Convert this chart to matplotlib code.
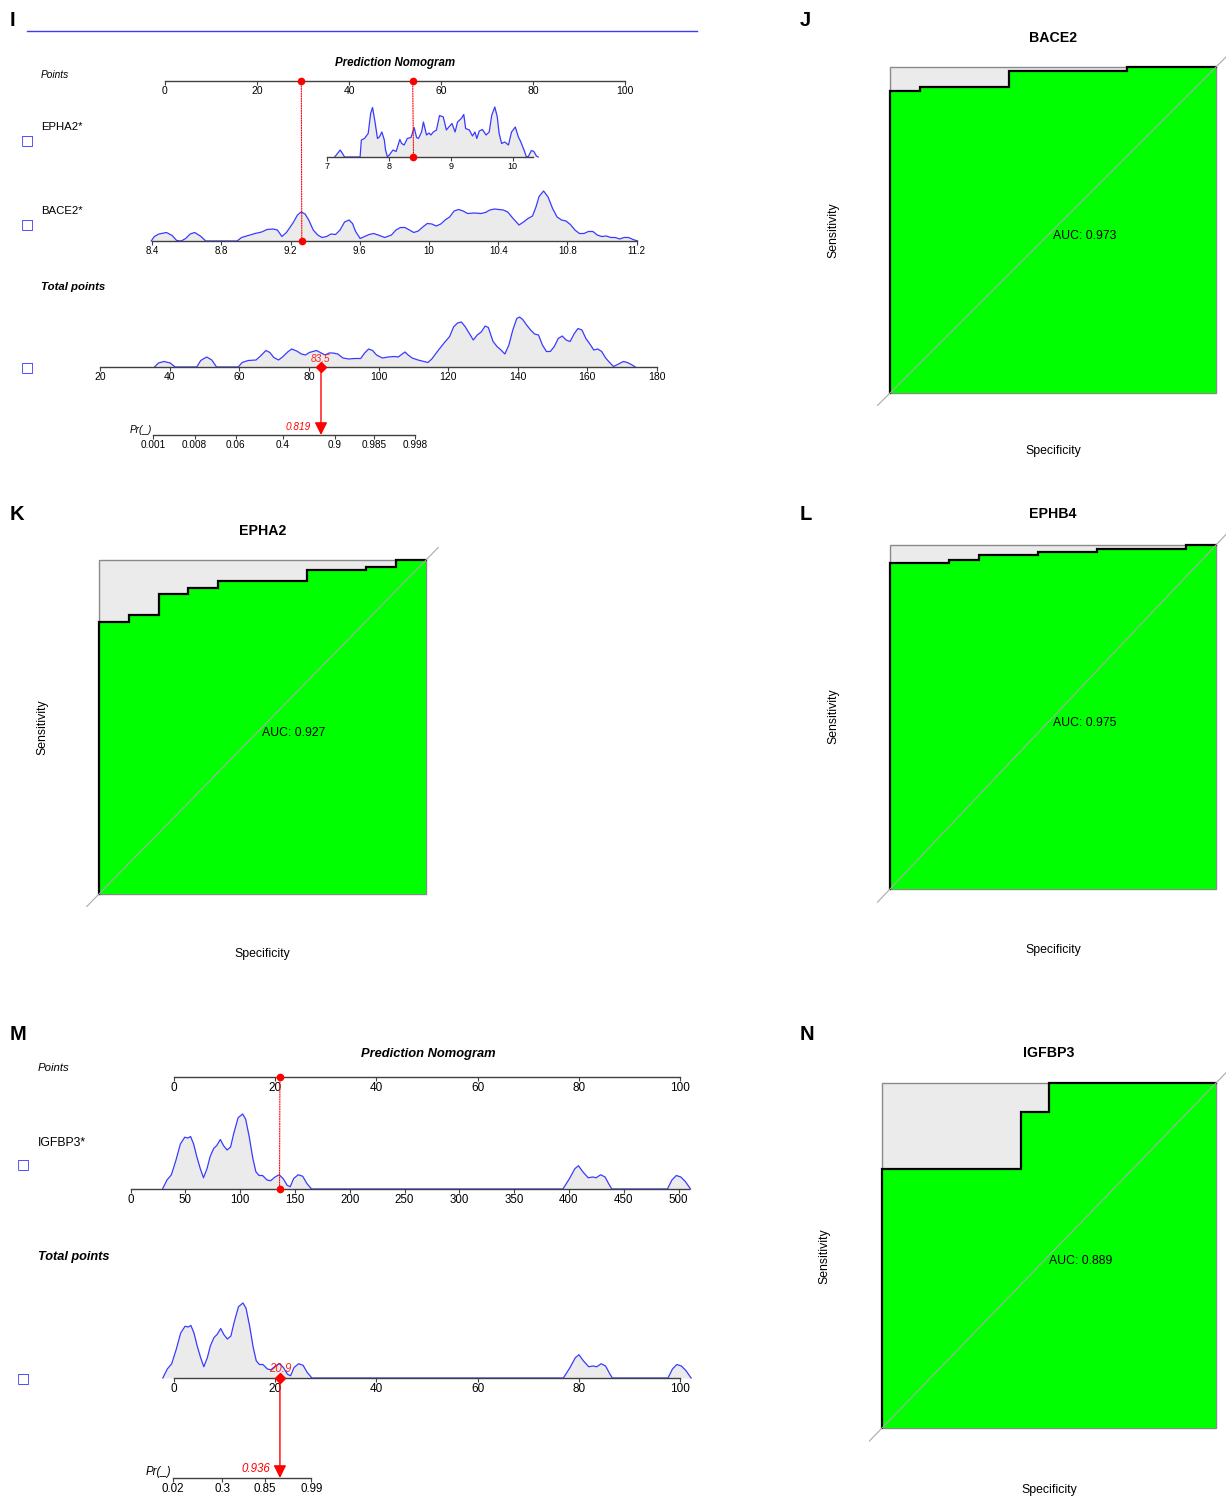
import numpy as np
import matplotlib.pyplot as plt
from matplotlib.patches import ConnectionPatch, Rectangle
from matplotlib.lines import Line2D

plt.rcParams['font.family'] = ['Liberation Sans', 'DejaVu Sans']

# ---------------- data ----------------
# panel I: density traces (value, relative height)
epha2_x = [7.13, 7.22, 7.29, 7.54, 7.56, 7.61, 7.67, 7.71, 7.74, 7.78, 7.82, 7.85, 7.89, 7.93, 7.95,
           7.98, 8.01, 8.07, 8.12, 8.18, 8.21, 8.25, 8.30, 8.36, 8.41, 8.45, 8.48, 8.53, 8.56, 8.61,
           8.65, 8.68, 8.72, 8.77, 8.82, 8.88, 8.93, 8.97, 9.02, 9.07, 9.11, 9.17, 9.21, 9.24, 9.30,
           9.35, 9.39, 9.42, 9.46, 9.51, 9.57, 9.62, 9.66, 9.71, 9.75, 9.78, 9.82, 9.87, 9.93, 9.98,
           10.04, 10.09, 10.13, 10.18, 10.22, 10.25, 10.30, 10.34, 10.38, 10.41]
epha2_d = [0, 0.14, 0, 0, 0.34, 0.37, 0.47, 0.87, 0.99, 0.70, 0.37, 0.40, 0.50, 0.34, 0.14,
           0, 0.04, 0.14, 0.11, 0.35, 0.27, 0.24, 0.37, 0.39, 0.59, 0.39, 0.37, 0.50, 0.70, 0.44,
           0.48, 0.44, 0.50, 0.54, 0.83, 0.80, 0.54, 0.60, 0.67, 0.50, 0.70, 0.77, 0.85, 0.57, 0.54,
           0.42, 0.50, 0.37, 0.52, 0.55, 0.44, 0.50, 0.83, 1.00, 0.80, 0.47, 0.27, 0.30, 0.24, 0.50,
           0.60, 0.40, 0.30, 0.14, 0, 0.01, 0.13, 0.11, 0.02, 0]

bace2_x = [8.395, 8.413, 8.439, 8.483, 8.516, 8.542, 8.568, 8.594, 8.620, 8.646, 8.679,
           8.710, 8.891, 8.917, 8.956, 8.995, 9.033, 9.064, 9.098, 9.124, 9.150,
           9.176, 9.214, 9.240, 9.261, 9.284, 9.305, 9.331, 9.357, 9.382, 9.408,
           9.434, 9.460, 9.486, 9.512, 9.538, 9.558, 9.576, 9.602, 9.628, 9.654,
           9.680, 9.706, 9.744, 9.783, 9.809, 9.835, 9.861, 9.887, 9.912, 9.938,
           9.964, 9.990, 10.016, 10.042, 10.068, 10.093, 10.119, 10.145, 10.171, 10.197,
           10.223, 10.261, 10.300, 10.326, 10.352, 10.378, 10.404, 10.429, 10.455, 10.481,
           10.520, 10.546, 10.572, 10.598, 10.618, 10.636, 10.662, 10.688, 10.714, 10.740,
           10.766, 10.791, 10.817, 10.843, 10.869, 10.895, 10.921, 10.947, 10.972, 10.998,
           11.024, 11.050, 11.076, 11.102, 11.127, 11.153, 11.179, 11.205]
bace2_d = [0, 0.09, 0.14, 0.17, 0.11, 0.01, 0, 0.05, 0.14, 0.17, 0.10,
           0, 0, 0.07, 0.11, 0.15, 0.18, 0.23, 0.24, 0.22, 0.09,
           0.17, 0.36, 0.52, 0.58, 0.54, 0.42, 0.22, 0.12, 0.07, 0.09,
           0.14, 0.13, 0.22, 0.38, 0.42, 0.35, 0.19, 0.05, 0.09, 0.13,
           0.15, 0.12, 0.07, 0.12, 0.22, 0.27, 0.27, 0.22, 0.17, 0.20,
           0.28, 0.35, 0.34, 0.30, 0.34, 0.42, 0.48, 0.60, 0.63, 0.60,
           0.55, 0.56, 0.55, 0.57, 0.62, 0.64, 0.63, 0.62, 0.58, 0.47,
           0.32, 0.38, 0.45, 0.50, 0.68, 0.89, 1.00, 0.88, 0.65, 0.48,
           0.42, 0.40, 0.33, 0.22, 0.15, 0.15, 0.19, 0.19, 0.12, 0.09,
           0.10, 0.07, 0.07, 0.04, 0.07, 0.07, 0.03, 0]

total_x = [35.66, 36.79, 38.38, 40.20, 41.56, 47.80, 48.94, 50.64, 52.11, 53.48,
           59.72, 60.85, 62.55, 64.82, 65.96, 67.66, 68.79, 69.93, 71.29, 72.43,
           73.90, 75.04, 76.51, 77.87, 79.01, 80.14, 82.18, 83.55, 84.68, 85.82,
           86.95, 88.31, 89.79, 91.49, 93.19, 94.89, 96.03, 97.16, 98.30, 99.43,
           101.13, 102.84, 104.54, 105.67, 106.81, 107.60, 108.51, 109.65, 111.35, 113.05,
           114.18, 115.32, 117.02, 118.72, 120.43, 121.56, 122.70, 123.83, 124.96, 126.10,
           127.23, 128.37, 129.50, 130.64, 131.55, 132.91, 134.04, 135.18, 136.31, 137.45,
           138.58, 139.72, 140.51, 141.42, 142.55, 143.69, 144.82, 145.96, 147.09, 148.23,
           149.36, 150.50, 151.63, 152.77, 153.90, 155.04, 156.17, 157.30, 158.44, 159.57,
           160.71, 161.84, 162.98, 164.11, 165.25, 166.38, 167.52, 168.65, 170.35, 171.48,
           172.62, 173.76]
total_d = [0, 0.08, 0.11, 0.08, 0, 0, 0.13, 0.20, 0.14, 0,
           0, 0.09, 0.13, 0.14, 0.21, 0.33, 0.29, 0.19, 0.14, 0.20,
           0.30, 0.36, 0.32, 0.26, 0.24, 0.29, 0.33, 0.28, 0.24, 0.28,
           0.28, 0.26, 0.18, 0.16, 0.17, 0.17, 0.28, 0.36, 0.33, 0.24,
           0.18, 0.20, 0.21, 0.20, 0.26, 0.30, 0.24, 0.18, 0.14, 0.11,
           0.09, 0.16, 0.32, 0.47, 0.61, 0.80, 0.88, 0.90, 0.80, 0.67,
           0.54, 0.64, 0.70, 0.82, 0.79, 0.51, 0.41, 0.34, 0.26, 0.44,
           0.74, 0.97, 1.00, 0.95, 0.84, 0.74, 0.66, 0.64, 0.44, 0.31,
           0.31, 0.41, 0.57, 0.62, 0.54, 0.51, 0.66, 0.77, 0.74, 0.57,
           0.46, 0.34, 0.36, 0.31, 0.18, 0.09, 0.01, 0.05, 0.11, 0.09,
           0.05, 0]

# panel I model: points = a + b * (value - ref)
epha2_pts = (35.02, 13.45, 7.0)
bace2_pts = (-2.92, 37.63, 8.4)
epha2_sel, bace2_sel = 8.40, 9.265
lp_I = (74.82, 0.1744)          # lp = b * (total - t0)
pr_ticks_I = [0.001, 0.008, 0.06, 0.4, 0.9, 0.985, 0.998]

# panel M
igfbp3_x = [29.2, 33.3, 37.3, 41.4, 45.5, 49.5, 52.4, 54.8, 57.6, 60.5,
            63.7, 66.6, 69.8, 72.6, 75.9, 78.7, 82.0, 84.8, 88.1, 91.3,
            94.2, 98.2, 102.3, 105.1, 108.4, 111.6, 114.4, 117.3, 120.5, 124.6,
            127.8, 131.9, 135.6, 139.2, 142.9, 145.7, 148.9, 153.0, 157.1, 161.1,
            165.2, 394.5, 400.6, 405.4, 408.7, 412.7, 417.6, 421.7, 424.9, 429.0,
            433.0, 436.3, 439.1, 489.9, 494.0, 498.0, 502.1, 506.2, 511.0]
igfbp3_d = [0, 0.12, 0.19, 0.38, 0.60, 0.69, 0.68, 0.70, 0.60, 0.43,
            0.27, 0.15, 0.27, 0.43, 0.54, 0.58, 0.66, 0.58, 0.52, 0.56,
            0.74, 0.95, 1.00, 0.93, 0.69, 0.41, 0.23, 0.18, 0.18, 0.12,
            0.11, 0.16, 0.19, 0.14, 0.05, 0.03, 0.14, 0.19, 0.17, 0.07,
            0, 0, 0.14, 0.27, 0.31, 0.23, 0.15, 0.16, 0.15, 0.19,
            0.16, 0.07, 0, 0, 0.12, 0.18, 0.16, 0.10, 0]
igfbp3_pts = (0.0, 0.2167, 39.4)
igfbp3_sel = 136.0
lp_M = (-3.81, 0.31)            # lp = a + b * total
pr_ticks_M = [0.02, 0.3, 0.85, 0.99]

# ROC curves (specificity, sensitivity)
roc_bace2_spec = [1, 1, .909, .909, .636, .636, .273, .273, 0]
roc_bace2_sens = [0, .927, .927, .939, .939, .989, .989, 1, 1]
roc_epha2_spec = [1, 1, .909, .909, .818, .818, .727, .727, .636, .636, .364, .364, .182, .182, .091, .091, 0]
roc_epha2_sens = [0, .815, .815, .835, .835, .897, .897, .917, .917, .937, .937, .969, .969, .979, .979, 1, 1]
roc_ephb4_spec = [1, 1, .818, .818, .727, .727, .545, .545, .364, .364, .091, .091, 0]
roc_ephb4_sens = [0, .947, .947, .957, .957, .970, .970, .979, .979, .989, .989, 1, 1]
roc_igfbp3_spec = [1, 1, .583, .583, .5, .5, 0]
roc_igfbp3_sens = [0, .751, .751, .917, .917, 1, 1]
auc_values = {'BACE2': 0.973, 'EPHA2': 0.927, 'EPHB4': 0.975, 'IGFBP3': 0.889}

# ---------------- drawing ----------------
W, H = 1226, 1497
fig = plt.figure(figsize=(W / 100, H / 100), dpi=100)

BLUE = '#3a3aff'
FILL = '#ebebeb'
AXC = '#404040'
GREEN = '#00ff00'


def px_axes(x0, y0, x1, y1):
    return fig.add_axes([x0 / W, 1 - y1 / H, (x1 - x0) / W, (y1 - y0) / H])


def ftext(x, y, s, **kw):
    return fig.text(x / W, 1 - y / H, s, **kw)


def scale_row(v1, p1, v2, p2, base, height, ticks, labels, bounds, fs):
    left, right = 0, 720
    ax = px_axes(left, base - height, right, base)
    k = (p2 - p1) / (v2 - v1)
    ax.set_xlim(v1 - (p1 - left) / k, v1 + (right - p1) / k)
    ax.set_ylim(0, 1)
    ax.patch.set_visible(False)
    for s in ('top', 'right', 'left'):
        ax.spines[s].set_visible(False)
    ax.spines['bottom'].set_bounds(*bounds)
    ax.spines['bottom'].set_color(AXC)
    ax.spines['bottom'].set_linewidth(1)
    ax.set_yticks([])
    ax.set_xticks(ticks)
    ax.set_xticklabels(labels)
    ax.tick_params(axis='x', length=3, width=0.8, color=AXC, pad=0.5, labelsize=fs)
    return ax


def density(ax, x, d):
    ax.fill_between(x, d, color=FILL, lw=0, clip_on=False)
    ax.plot(x, d, color=BLUE, lw=0.9, clip_on=False)


def to_pts(model, v):
    a, b, ref = model
    return a + b * (np.asarray(v) - ref)


def red_link(ax_a, xa, ax_b, xb):
    con = ConnectionPatch(xyA=(xa, 0), coordsA=ax_a.transData, xyB=(xb, 0), coordsB=ax_b.transData,
                          color='red', lw=0.8, linestyle=(0, (1, 1.2)))
    fig.add_artist(con)
    ax_a.plot(xa, 0, 'o', color='red', ms=4.5, clip_on=False, zorder=5)
    ax_b.plot(xb, 0, 'o', color='red', ms=4.5, clip_on=False, zorder=5)


def fmt(v):
    return ('%g' % v)


def total_to_pr(ax_t, ax_pr, tot, prob, fs):
    con = ConnectionPatch(xyA=(tot, 0), coordsA=ax_t.transData, xyB=(tot, 0), coordsB=ax_pr.transData,
                          color='red', lw=1, arrowstyle='-|>', mutation_scale=19, shrinkA=0, shrinkB=0)
    fig.add_artist(con)
    ax_t.plot(tot, 0, 'D', color='red', ms=5.5, clip_on=False, zorder=5)
    ax_t.annotate('%.1f' % tot, (tot, 0), xytext=(0, 2), textcoords='offset points', ha='center',
                  va='bottom', color='red', style='italic', fontsize=fs, alpha=0.85)
    ax_pr.annotate('%.3f' % prob, (tot, 0), xytext=(-7, 2), textcoords='offset points', ha='right',
                   va='bottom', color='red', style='italic', fontsize=fs)


def square(x, y):
    ftext(x, y, '\u25a1', color='#2a2aff', fontsize=10, ha='center', va='center', family='DejaVu Sans')


# panel letters
for lx, ly, lab in [(12, 20, 'I'), (805, 20, 'J'), (17, 515, 'K'), (806, 515, 'L'), (18, 1035, 'M'), (807, 1035, 'N')]:
    ftext(lx, ly, lab, fontsize=14.5, fontweight='bold', ha='center', va='center')

# ---- panel I nomogram ----
fig.add_artist(Line2D([27 / W, 697 / W], [1 - 31 / H] * 2, color=BLUE, lw=1))
ftext(395, 63, 'Prediction Nomogram', fontsize=8.3, fontweight='bold', style='italic', ha='center', va='center')
ftext(41, 75, 'Points', fontsize=7.3, style='italic', ha='left', va='center')
ftext(41, 127, 'EPHA2*', fontsize=8.2, ha='left', va='center')
ftext(41, 211, 'BACE2*', fontsize=8.2, ha='left', va='center')
ftext(41, 287, 'Total points', fontsize=8.2, fontweight='bold', style='italic', ha='left', va='center')
for yy in (140, 224, 367):
    square(27, yy)

pts_ticks = [0, 20, 40, 60, 80, 100]
ax_p = scale_row(0, 165, 100, 625, 81, 10, pts_ticks, [fmt(t) for t in pts_ticks], (0, 100), 7.5)

e_ticks = [7, 8, 9, 10]
ax_e = scale_row(7, 326.6, 10, 512.8, 157, 50, e_ticks, [fmt(t) for t in e_ticks], (7, 10.33), 6.5)
density(ax_e, epha2_x, epha2_d)

b_ticks = [8.4, 8.8, 9.2, 9.6, 10, 10.4, 10.8, 11.2]
ax_b = scale_row(8.4, 152.1, 11.2, 636.7, 241, 50, b_ticks, [fmt(t) for t in b_ticks], (8.4, 11.2), 7)
density(ax_b, bace2_x, bace2_d)

p_e = float(to_pts(epha2_pts, epha2_sel))
p_b = float(to_pts(bace2_pts, bace2_sel))
red_link(ax_p, p_e, ax_e, epha2_sel)
red_link(ax_p, p_b, ax_b, bace2_sel)

t_ticks = list(range(20, 181, 20))
ax_t = scale_row(20, 100, 180, 657, 367, 50, t_ticks, [fmt(t) for t in t_ticks], (20, 180), 7.5)
density(ax_t, total_x, total_d)

t0, slope = lp_I
pr_pos = [t0 + np.log(p / (1 - p)) / slope for p in pr_ticks_I]
ax_pr = scale_row(20, 100, 180, 657, 435, 10, pr_pos, [fmt(p) for p in pr_ticks_I],
                  (pr_pos[0], pr_pos[-1]), 7.2)
ax_pr.annotate('Pr(_)', (pr_pos[0], 0), xytext=(-1, 0), textcoords='offset points', ha='right',
               va='bottom', style='italic', fontsize=7.2)
tot_I = p_e + p_b
prob_I = 1 / (1 + np.exp(-slope * (tot_I - t0)))
total_to_pr(ax_t, ax_pr, tot_I, prob_I, 7.2)

# ---- panel M nomogram ----
ftext(428, 1054, 'Prediction Nomogram', fontsize=9.3, fontweight='bold', style='italic', ha='center', va='center')
ftext(38, 1068, 'Points', fontsize=8.2, style='italic', ha='left', va='center')
ftext(38, 1143, 'IGFBP3*', fontsize=8.8, ha='left', va='center')
ftext(38, 1257, 'Total points', fontsize=9.2, fontweight='bold', style='italic', ha='left', va='center')
for yy in (1164, 1378):
    square(23, yy)

ax_pm = scale_row(0, 174, 100, 680, 1077, 10, pts_ticks, [fmt(t) for t in pts_ticks], (0, 100), 8.5)
g_ticks = list(range(0, 501, 50))
ax_g = scale_row(0, 130.5, 500, 678.5, 1189, 75, g_ticks, [fmt(t) for t in g_ticks], (0, 510), 8.3)
density(ax_g, igfbp3_x, igfbp3_d)
p_g = float(to_pts(igfbp3_pts, igfbp3_sel))
red_link(ax_pm, p_g, ax_g, igfbp3_sel)

tm_ticks = [0, 20, 40, 60, 80, 100]
ax_tm = scale_row(0, 174, 100, 680, 1378, 75, tm_ticks, [fmt(t) for t in tm_ticks], (0, 100), 8.5)
density(ax_tm, to_pts(igfbp3_pts, igfbp3_x), igfbp3_d)

a_m, b_m = lp_M
prm_pos = [(np.log(p / (1 - p)) - a_m) / b_m for p in pr_ticks_M]
ax_prm = scale_row(0, 174, 100, 680, 1478, 10, prm_pos, [fmt(p) for p in pr_ticks_M],
                   (prm_pos[0], prm_pos[-1]), 8.3)
ax_prm.annotate('Pr(_)', (prm_pos[0], 0), xytext=(-1, 0), textcoords='offset points', ha='right',
                va='bottom', style='italic', fontsize=8.3)
prob_M = 1 / (1 + np.exp(-(a_m + b_m * p_g)))
total_to_pr(ax_tm, ax_prm, p_g, prob_M, 8.3)


# ---- ROC panels ----
def roc_panel(box, spec, sens, name):
    bx0, by0, bx1, by1 = box
    ex, ey = 0.04 * (bx1 - bx0), 0.04 * (by1 - by0)
    ax = px_axes(bx0 - ex, by0 - ey, bx1 + ex, by1 + ey)
    ax.set_xlim(1.04, -0.04)
    ax.set_ylim(-0.04, 1.04)
    ax.axis('off')
    ax.add_patch(Rectangle((0, 0), 1, 1, facecolor=FILL, edgecolor='#8a8a8a', lw=1))
    ax.fill_between(spec, sens, 0, color=GREEN, lw=0)
    ax.plot(spec, sens, color='black', lw=1.6, solid_joinstyle='miter')
    ax.axline((1, 0), (0, 1), color='#aaaaaa', lw=0.8)
    ax.text(0.5, 0.5, 'AUC: %.3f' % auc_values[name], ha='left', va='top', fontsize=8.8)
    cx = (bx0 + bx1) / 2
    return cx


for box, spec, sens, name, ty, sx, sy, py in [
        ((890, 67, 1216, 393), roc_bace2_spec, roc_bace2_sens, 'BACE2', 38, 833, 230, 451),
        ((99, 560, 426, 894), roc_epha2_spec, roc_epha2_sens, 'EPHA2', 531, 42, 727, 954),
        ((890, 545, 1216, 889), roc_ephb4_spec, roc_ephb4_sens, 'EPHB4', 514, 833, 716, 950),
        ((882, 1083, 1216, 1428), roc_igfbp3_spec, roc_igfbp3_sens, 'IGFBP3', 1053, 824, 1256, 1490)]:
    cx = roc_panel(box, spec, sens, name)
    ftext(cx, ty, name, fontsize=10.2, fontweight='bold', ha='center', va='center')
    ftext(sx, sy, 'Sensitivity', fontsize=8.8, rotation=90, ha='center', va='center')
    ftext(cx, py, 'Specificity', fontsize=8.8, ha='center', va='center')

fig.savefig('out.png', dpi=100)
